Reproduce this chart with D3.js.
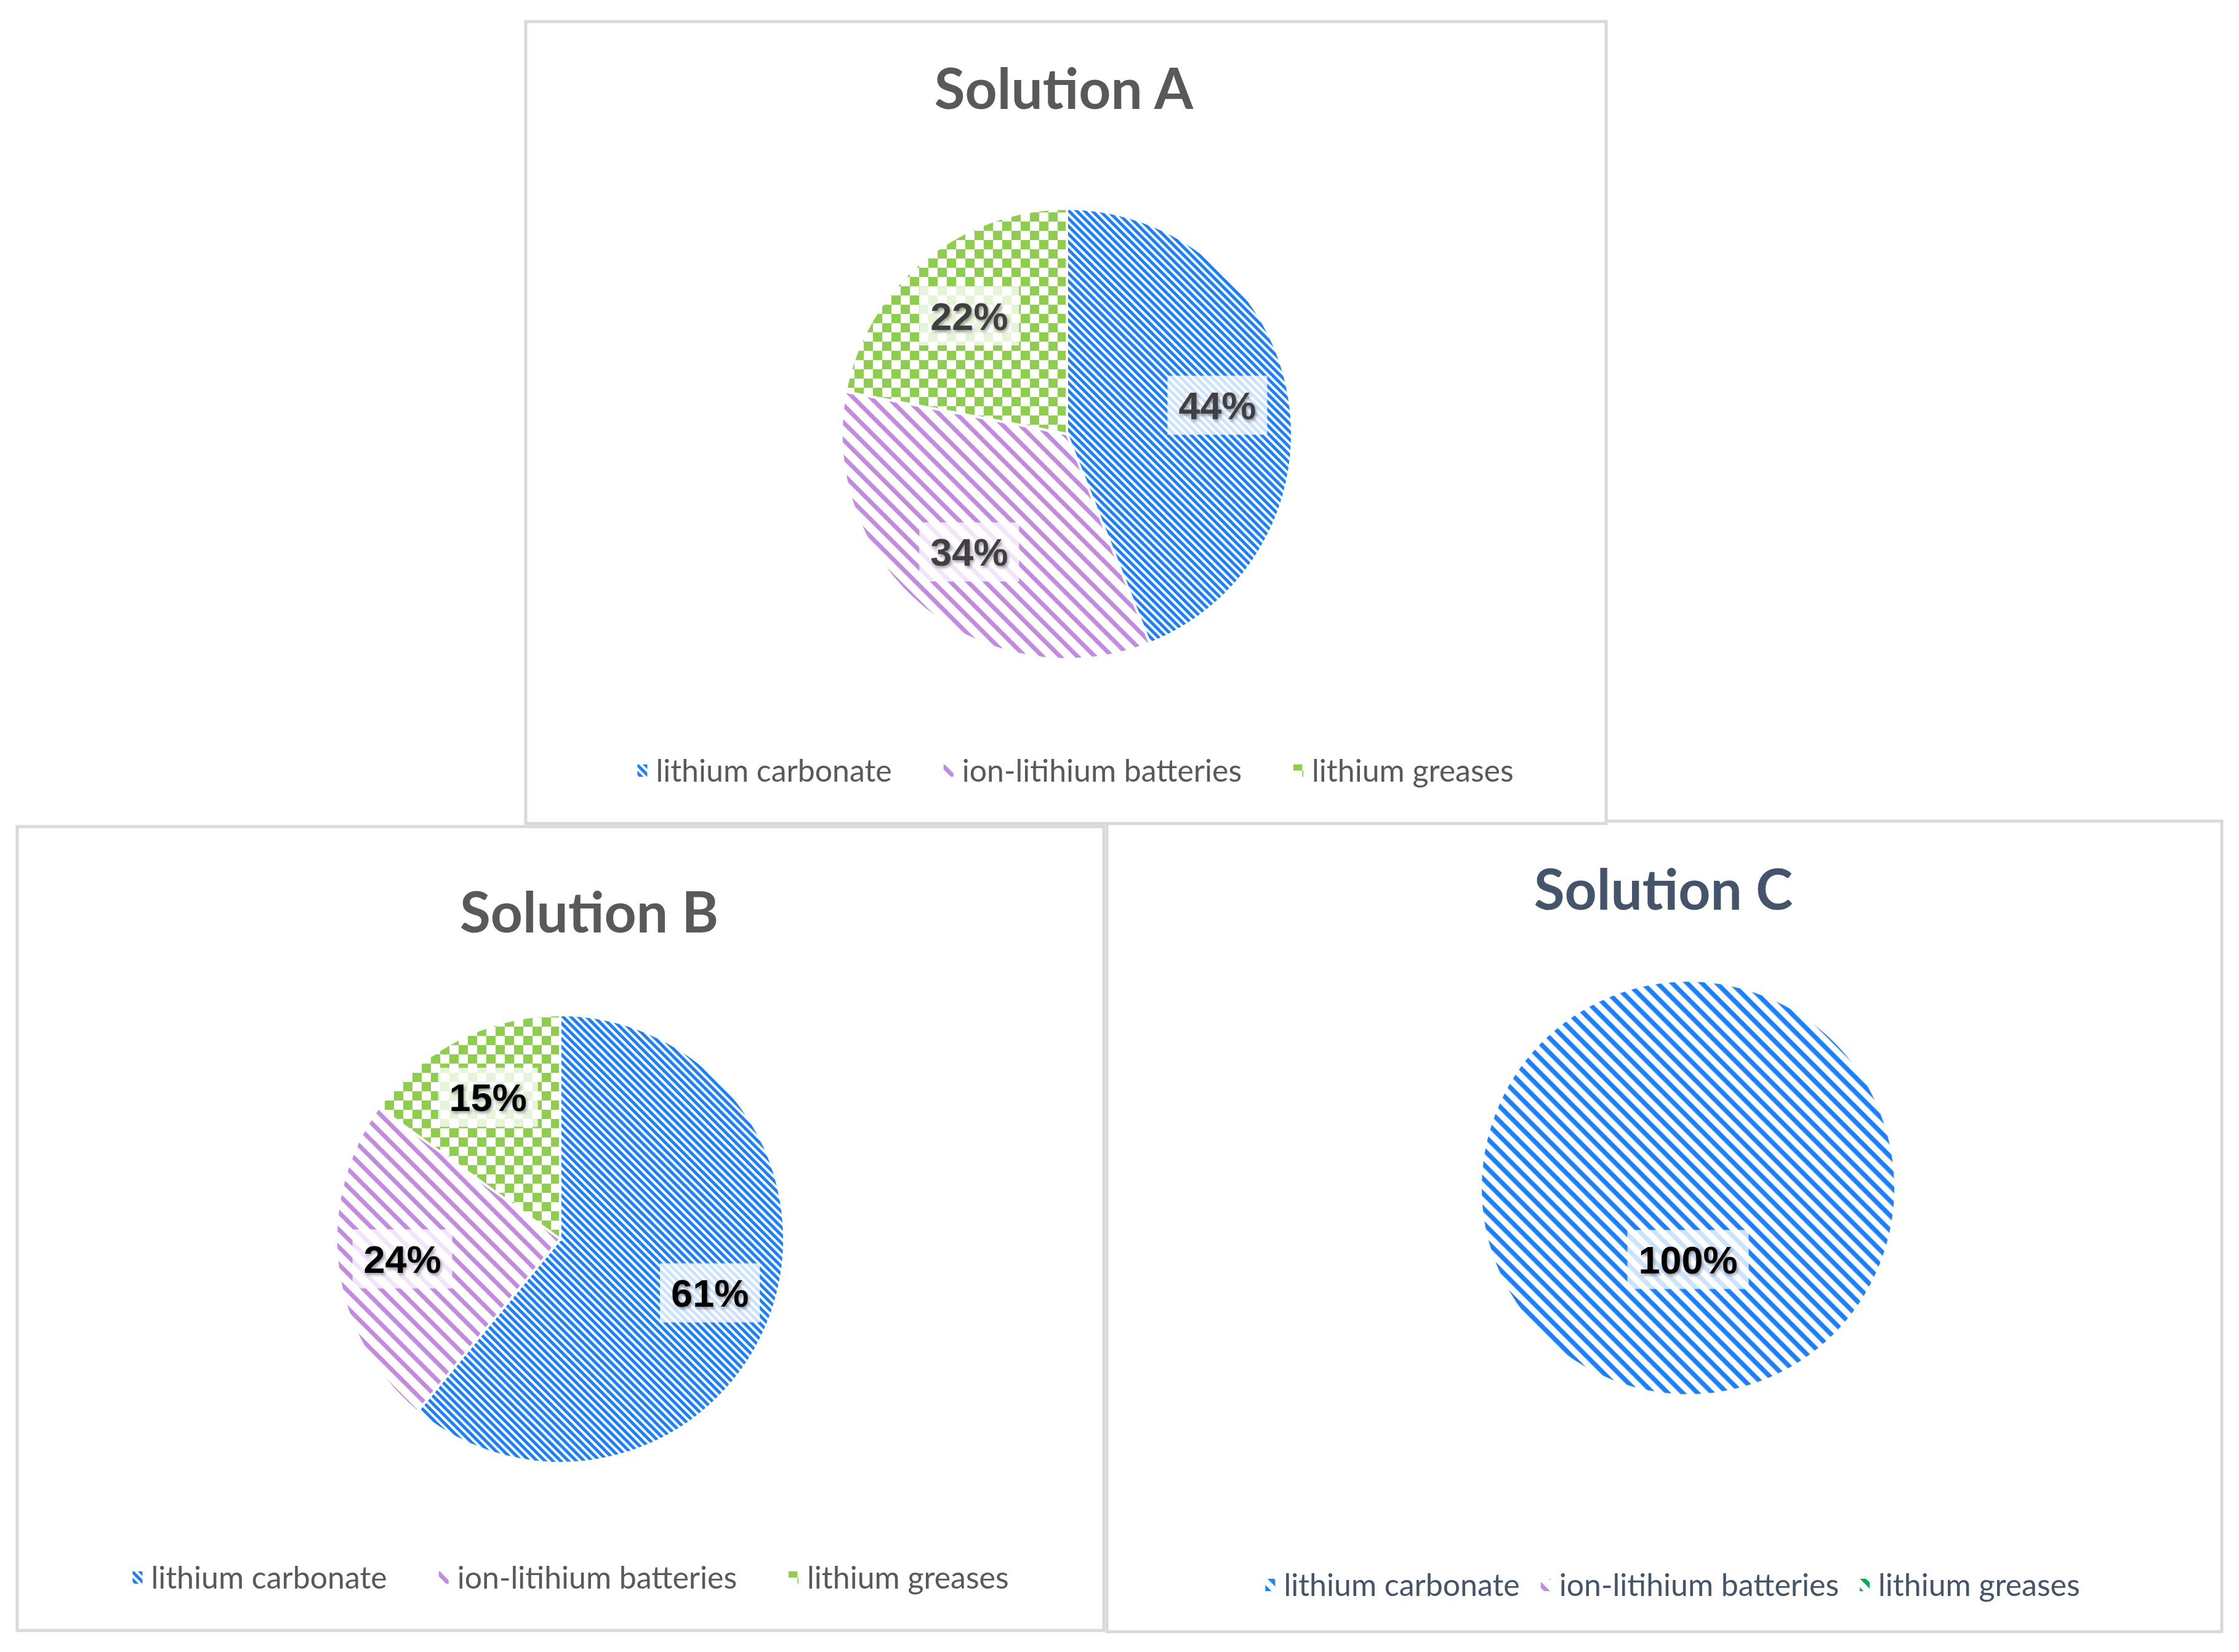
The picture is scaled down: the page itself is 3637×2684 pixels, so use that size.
<!DOCTYPE html>
<html>
<head>
<meta charset="utf-8">
<script src="https://cdn.jsdelivr.net/npm/d3@7"></script>
<style>
  html, body { margin: 0; padding: 0; background: #fff; }
  svg { display: block; }
</style>
</head>
<body>
<svg id="chart"></svg>
<script>

// data
const categories = ["lithium carbonate", "ion-litihium batteries", "lithium greases"];
const titles = ["Solution A", "Solution B", "Solution C"];
const shareA = [44, 34, 22];
const shareB = [61, 24, 15];
const shareC = [100, 0, 0];

const W = 3637, H = 2684;

// layout of the three panels (box = x, y, w, h)
const panels = [
    { title: titles[1], values: shareB, box: [28, 1343, 1765, 1306],
      cx: 882, cy: 670, r: 364, titleX: 929, titleY: 172, legendX: 899, legendY: 1220,
      fills: ["blue-dense", "purple", "green"], ink: "#595959", labelInk: "#000", labelR: 0.71, itemGap: 84 },
    { title: titles[2], values: shareC, box: [1798, 1334, 1811, 1317],
      cx: 944, cy: 596, r: 337, titleX: 904, titleY: 144, legendX: 919, legendY: 1241,
      fills: ["blue-wide", "purple", "green-dark"], ink: "#44546a", labelInk: "#000", labelR: 0.345, itemGap: 34 },
    { title: titles[0], values: shareA, box: [854, 35, 1755, 1303],
      cx: 879, cy: 670, r: 366, titleX: 874, titleY: 142, legendX: 893, legendY: 1217,
      fills: ["blue-dense", "purple", "green"], ink: "#595959", labelInk: "#404040", labelR: 0.68, itemGap: 84 },
];

const svg = d3.select("#chart").attr("width", W).attr("height", H);
svg.append("rect").attr("width", W).attr("height", H).attr("fill", "#fff");

const defs = svg.append("defs");

function stripes(id, color, period, w) {
    let p = defs.append("pattern")
        .attr("id", id)
        .attr("patternUnits", "userSpaceOnUse")
        .attr("width", period)
        .attr("height", period)
        .attr("patternTransform", "rotate(45)");
    p.append("rect").attr("width", period).attr("height", period).attr("fill", "#fff");
    p.append("rect").attr("width", period).attr("height", w).attr("fill", color);
}

function checker(id, color, cell) {
    let p = defs.append("pattern")
        .attr("id", id)
        .attr("patternUnits", "userSpaceOnUse")
        .attr("width", cell * 2)
        .attr("height", cell * 2);
    p.append("rect").attr("width", cell * 2).attr("height", cell * 2).attr("fill", "#fff");
    p.append("rect").attr("width", cell).attr("height", cell).attr("fill", color);
    p.append("rect").attr("x", cell).attr("y", cell).attr("width", cell).attr("height", cell).attr("fill", color);
}

stripes("blue-dense", "#1a80ff", 9, 5);
stripes("blue-wide", "#1a80ff", 17, 7.5);
stripes("purple", "#c28ae2", 20, 7);
stripes("green-dark", "#00b050", 17, 7);
checker("green", "#8dcf4c", 15);

let shadow = defs.append("filter").attr("id", "shadow")
    .attr("x", "-20%").attr("y", "-20%").attr("width", "140%").attr("height", "140%");
shadow.append("feDropShadow")
    .attr("dx", 2).attr("dy", 3).attr("stdDeviation", 2.5)
    .attr("flood-color", "#000").attr("flood-opacity", 0.4);

const pie = d3.pie().sort(null).value(d => d);

panels.forEach(function(p) {
    let [x0, y0, bw, bh] = p.box;
    let g = svg.append("g").attr("transform", "translate(" + x0 + "," + y0 + ")");

    g.append("rect")
        .attr("width", bw).attr("height", bh)
        .attr("fill", "#fff")
        .attr("stroke", "#d9d9d9")
        .attr("stroke-width", 5);

    g.append("text")
        .attr("x", p.titleX).attr("y", p.titleY)
        .attr("text-anchor", "middle")
        .attr("font-family", "Lato, 'Open Sans', sans-serif")
        .attr("font-weight", 700)
        .attr("font-size", 91)
        .attr("fill", p.ink)
        .text(p.title);

    let arcs = pie(p.values);
    let arc = d3.arc().innerRadius(0).outerRadius(p.r);
    let labelArc = d3.arc().innerRadius(p.r * p.labelR).outerRadius(p.r * p.labelR);

    let pieG = g.append("g").attr("transform", "translate(" + p.cx + "," + p.cy + ")");

    pieG.selectAll("path")
        .data(arcs.filter(d => d.value > 0))
        .enter().append("path")
            .attr("d", arc)
            .attr("fill", d => "url(#" + p.fills[d.index] + ")")
            .attr("stroke", "#fff")
            .attr("stroke-width", 4);

    let labels = pieG.selectAll("g.label")
        .data(arcs.filter(d => d.value > 0))
        .enter().append("g")
            .classed("label", true)
            .attr("transform", d => "translate(" + labelArc.centroid(d) + ")");

    labels.append("rect")
        .attr("fill", "#fff")
        .attr("fill-opacity", 0.78);

    labels.append("text")
        .attr("text-anchor", "middle")
        .attr("dy", "0.36em")
        .attr("font-family", "'Liberation Sans', Arial, sans-serif")
        .attr("font-weight", 700)
        .attr("font-size", 63)
        .attr("fill", p.labelInk)
        .attr("filter", "url(#shadow)")
        .text(d => d.value + "%");

    labels.each(function() {
        let t = d3.select(this).select("text").node().getComputedTextLength();
        d3.select(this).select("rect")
            .attr("x", -t / 2 - 18).attr("y", -48)
            .attr("width", t + 36).attr("height", 96);
    });

    // legend: marker, label, then gap; centred on legendX
    let leg = g.append("g");
    let cursor = 0;
    categories.forEach(function(c, i) {
        leg.append("rect")
            .attr("x", cursor).attr("y", -10)
            .attr("width", 16).attr("height", 20)
            .attr("fill", "url(#" + p.fills[i] + ")");
        let t = leg.append("text")
            .attr("x", cursor + 30).attr("y", 0)
            .attr("dy", "0.35em")
            .attr("font-family", "Lato, 'Open Sans', sans-serif")
            .attr("font-size", 50)
            .attr("fill", p.ink)
            .text(c);
        cursor += 30 + t.node().getComputedTextLength() + p.itemGap;
    });
    let total = cursor - p.itemGap;
    leg.attr("transform", "translate(" + (p.legendX - total / 2) + "," + p.legendY + ")");
});

</script>
</body>
</html>
